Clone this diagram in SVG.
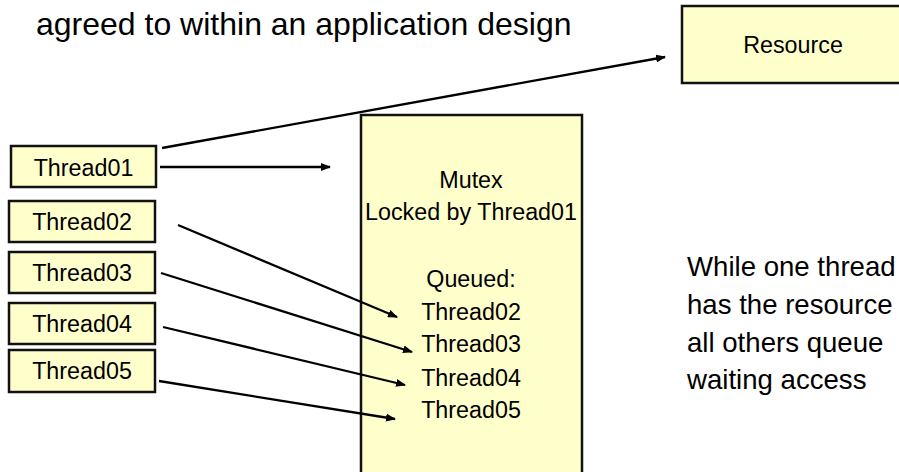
<svg xmlns="http://www.w3.org/2000/svg" width="899" height="472" viewBox="0 0 899 472">
<defs>
<style>
.box{fill:#FFFFCC;stroke:#111;stroke-width:2.5}
.t{font-family:"Liberation Sans",Arial,sans-serif;font-size:23.3px;fill:#000;text-anchor:middle}
.big{font-family:"Liberation Sans",Arial,sans-serif;font-size:27.6px;fill:#000}
.title{font-family:"Liberation Sans",Arial,sans-serif;font-size:32px;fill:#000}
.c{stroke:#000;stroke-width:2.3;fill:none;marker-end:url(#ah)}
</style>
<marker id="ah" markerWidth="10" markerHeight="8" refX="9" refY="4" orient="auto" markerUnits="userSpaceOnUse">
<path d="M0,0 L10,4 L0,8 Z" fill="#000"/>
</marker>
</defs>
<rect width="899" height="472" fill="#fff"/>
<text id="title" class="title" x="36" y="35">agreed to within an application design</text>
<g id="resource"><rect class="box" x="682" y="6" width="222" height="77"/><text class="t" x="793" y="53">Resource</text></g>
<g id="mutex"><rect class="box" x="361" y="115" width="221" height="370"/>
<text class="t" x="471" y="188">Mutex</text>
<text class="t" x="471" y="220">Locked by Thread01</text>
<text class="t" x="471" y="287">Queued:</text>
<text class="t" x="471" y="320">Thread02</text>
<text class="t" x="471" y="352">Thread03</text>
<text class="t" x="471" y="386">Thread04</text>
<text class="t" x="471" y="418">Thread05</text>
</g>
<g id="thread01"><rect class="box" x="11" y="146" width="145" height="41"/><text class="t" x="83.5" y="176">Thread01</text></g>
<g id="thread02"><rect class="box" x="9" y="201" width="146" height="41"/><text class="t" x="82" y="230">Thread02</text></g>
<g id="thread03"><rect class="box" x="9" y="252" width="146" height="41"/><text class="t" x="82" y="281">Thread03</text></g>
<g id="thread04"><rect class="box" x="9" y="303" width="146" height="41"/><text class="t" x="82" y="332">Thread04</text></g>
<g id="thread05"><rect class="box" x="9" y="350" width="146" height="42"/><text class="t" x="82" y="379">Thread05</text></g>
<g id="connectors">
<line class="c" x1="162" y1="148" x2="665" y2="57"/>
<line class="c" x1="160" y1="167" x2="330" y2="167"/>
<line class="c" x1="178" y1="225" x2="397" y2="317"/>
<line class="c" x1="161" y1="273" x2="412" y2="352"/>
<line class="c" x1="163" y1="327" x2="405" y2="385"/>
<line class="c" x1="159" y1="381" x2="395" y2="419"/>
</g>
<g id="note">
<text class="big" x="687" y="276">While one thread</text>
<text class="big" x="687" y="314">has the resource</text>
<text class="big" x="687" y="352">all others queue</text>
<text class="big" x="687" y="389">waiting access</text>
</g>
</svg>
